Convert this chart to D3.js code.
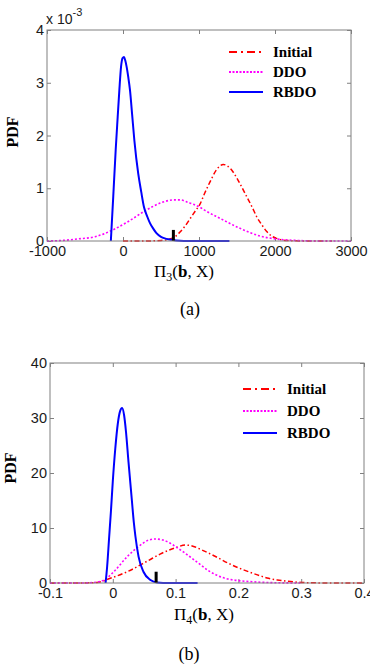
<!DOCTYPE html>
<html><head><meta charset="utf-8">
<script src="https://cdn.jsdelivr.net/npm/d3@7"></script>
<style>
body{margin:0;background:#fff;}
svg{display:block;}
</style></head>
<body>
<svg id="chart" width="370" height="665"></svg>
<script>
// ---------- Panel (a) data (PDF in units of 1e-3) ----------
const aXTicks = [-1000, 0, 1000, 2000, 3000];
const aYTicks = [0, 1, 2, 3, 4];
const aInitialX = [0, 300, 500, 600, 684, 750, 816, 882, 947, 1013, 1079, 1145, 1230, 1320, 1410, 1496, 1560, 1628, 1700, 1759, 1830, 1891, 1960, 2022, 2154, 2400, 2750];
const aInitialY = [0, 0, 0.01, 0.03, 0.08, 0.17, 0.28, 0.42, 0.56, 0.70, 0.92, 1.12, 1.35, 1.45, 1.38, 1.20, 1.03, 0.84, 0.64, 0.46, 0.30, 0.18, 0.09, 0.05, 0.01, 0, 0];
const aDdoX = [-1000, -800, -588, -368, -149, 70, 289, 509, 671, 750, 860, 1013, 1079, 1276, 1539, 1803, 2066, 2285, 2600, 3000];
const aDdoY = [0, 0.01, 0.04, 0.08, 0.20, 0.37, 0.57, 0.73, 0.78, 0.78, 0.73, 0.64, 0.58, 0.43, 0.24, 0.095, 0.03, 0.01, 0, 0];
const aRbdoX = [-160, -128, -96, -70, -48, -26, -5, 13, 30, 48, 70, 92, 120, 150, 200, 240, 275, 320, 355, 400, 440, 500, 550, 620, 700, 900, 1400];
const aRbdoY = [0, 0.85, 1.73, 2.35, 2.86, 3.30, 3.47, 3.49, 3.42, 3.30, 3.10, 2.86, 2.40, 1.90, 1.28, 0.93, 0.65, 0.46, 0.34, 0.23, 0.15, 0.08, 0.05, 0.03, 0.01, 0, 0];
const aMarker = [663, 0.21];

// ---------- Panel (b) data ----------
const bXTicks = [-0.1, 0, 0.1, 0.2, 0.3, 0.4];
const bYTicks = [0, 10, 20, 30, 40];
const bInitialX = [-0.1, -0.05, -0.025, -0.004, 0.023, 0.049, 0.063, 0.076, 0.09, 0.102, 0.116, 0.13, 0.142, 0.155, 0.169, 0.182, 0.195, 0.208, 0.222, 0.235, 0.248, 0.262, 0.275, 0.29, 0.30, 0.33, 0.4];
const bInitialY = [0, 0, 0.1, 0.85, 2.05, 3.6, 4.5, 5.3, 6.0, 6.5, 6.9, 6.6, 6.0, 5.3, 4.5, 3.7, 3.0, 2.4, 1.8, 1.3, 0.85, 0.55, 0.36, 0.18, 0.1, 0.02, 0];
const bDdoX = [-0.1, -0.05, -0.03, -0.014, 0.0016, 0.023, 0.044, 0.057, 0.068, 0.08, 0.092, 0.1, 0.113, 0.126, 0.14, 0.153, 0.166, 0.179, 0.192, 0.206, 0.225, 0.243, 0.27, 0.3];
const bDdoY = [0, 0, 0.1, 0.55, 2.05, 4.8, 6.9, 7.8, 8.0, 7.8, 7.2, 6.6, 5.6, 4.5, 3.3, 2.2, 1.4, 0.85, 0.55, 0.36, 0.2, 0.1, 0.03, 0];
const bRbdoX = [-0.0115, -0.009, -0.006, -0.003, 0.0, 0.004, 0.008, 0.0115, 0.0148, 0.018, 0.021, 0.025, 0.03, 0.0335, 0.036, 0.041, 0.049, 0.06, 0.07, 0.09, 0.135];
const bRbdoY = [0, 3, 8, 13, 18.5, 24.5, 29, 31.2, 31.8, 30.5, 27.5, 22, 15.5, 11, 8.5, 4.8, 2.0, 0.55, 0.1, 0, 0];
const bMarker = [0.069, 2.05];

const seriesNames = ["Initial", "DDO", "RBDO"];
const seriesColors = ["#ff0000", "#ff00ff", "#0000ff"];
const seriesDash = ["5,2.5,1.5,2.5", "2,2", null];
const seriesWidth = [1.5, 1.6, 2];

const svg = d3.select("#chart");
const frameColor = "#808080";
const tickFont = "Liberation Sans, Arial, sans-serif";
const serif = "Liberation Serif, Times New Roman, serif";

function zip(xs, ys){ return xs.map((x,i)=>[x, ys[i]]); }
const hy = s => String(s).replace("\u2212", "-");

function panel(cfg){
  const x = d3.scaleLinear().domain(cfg.xDomain).range([cfg.left, cfg.right]);
  const y = d3.scaleLinear().domain(cfg.yDomain).range([cfg.bottom, cfg.top]);
  const g = svg.append("g");

  const ax = g.append("g").attr("transform", `translate(0,${cfg.bottom})`)
    .call(d3.axisBottom(x).tickValues(cfg.xTicks).tickSize(-4).tickPadding(5).tickFormat(cfg.xFmt));
  const axT = g.append("g").attr("transform", `translate(0,${cfg.top})`)
    .call(d3.axisTop(x).tickValues(cfg.xTicks).tickSize(-4).tickFormat(""));
  const ay = g.append("g").attr("transform", `translate(${cfg.left},0)`)
    .call(d3.axisLeft(y).tickValues(cfg.yTicks).tickSize(-4).tickPadding(3).tickFormat(d3.format("d")));
  const ayR = g.append("g").attr("transform", `translate(${cfg.right},0)`)
    .call(d3.axisRight(y).tickValues(cfg.yTicks).tickSize(-4).tickFormat(""));
  [ax, axT, ay, ayR].forEach(a=>{
    a.select(".domain").remove();
    a.selectAll("line").attr("stroke", frameColor);
    a.selectAll("text").attr("fill", "#1a1a1a").style("font-family", tickFont).style("font-size", "14.5px");
  });

  const line = d3.line().x(d=>x(d[0])).y(d=>y(d[1])).curve(d3.curveMonotoneX);
  const data = [zip(cfg.initX, cfg.initY), zip(cfg.ddoX, cfg.ddoY), zip(cfg.rbdoX, cfg.rbdoY)];
  data.forEach((d,i)=>{
    g.append("path").datum(d).attr("d", line).attr("fill","none")
      .attr("stroke", seriesColors[i]).attr("stroke-width", seriesWidth[i])
      .attr("stroke-dasharray", seriesDash[i]);
  });
  g.append("line").attr("x1", x(cfg.marker[0])).attr("x2", x(cfg.marker[0]))
    .attr("y1", y(0)).attr("y2", y(cfg.marker[1])).attr("stroke", "#000").attr("stroke-width", 3);

  g.append("rect").attr("x", cfg.left).attr("y", cfg.top)
    .attr("width", cfg.right - cfg.left).attr("height", cfg.bottom - cfg.top)
    .attr("fill","none").attr("stroke", frameColor).attr("stroke-width", 1);

  cfg.legendRows.forEach((ry,i)=>{
    g.append("line").attr("x1", cfg.legendX).attr("x2", cfg.legendX + 34)
      .attr("y1", ry).attr("y2", ry).attr("stroke", seriesColors[i])
      .attr("stroke-width", 2).attr("stroke-dasharray", i===0 ? "8,4,2,4" : (i===1 ? "2,1.5" : null));
    g.append("text").attr("x", cfg.legendX + 44).attr("y", ry + 5)
      .style("font-family", serif).style("font-weight", "bold").style("font-size", "15px")
      .text(seriesNames[i]);
  });

  g.append("text").attr("transform", `translate(${cfg.yLabelX},${cfg.yLabelY}) rotate(-90)`)
    .attr("text-anchor","middle").style("font-family", serif).style("font-weight","bold")
    .style("font-size","16px").text("PDF");

  const xl = g.append("text").attr("x", cfg.xLabelX).attr("y", cfg.xLabelY).attr("text-anchor","middle")
    .style("font-family", serif).style("font-size","17px");
  xl.append("tspan").text("Π");
  xl.append("tspan").attr("dy", 4).style("font-size","12px").text(cfg.sub);
  xl.append("tspan").attr("dy", -4).text("(");
  xl.append("tspan").style("font-weight","bold").text("b");
  xl.append("tspan").text(", X)");

  g.append("text").attr("x", cfg.capX).attr("y", cfg.capY).attr("text-anchor","middle")
    .style("font-family", serif).style("font-size","18px").text(cfg.caption);
  return {x, y, g};
}

panel({
  xDomain:[-1000,3000], yDomain:[0,4], left:47, right:351, top:30, bottom:241,
  xTicks:aXTicks, yTicks:aYTicks, xFmt:d=>hy(d3.format("d")(d)),
  initX:aInitialX, initY:aInitialY, ddoX:aDdoX, ddoY:aDdoY, rbdoX:aRbdoX, rbdoY:aRbdoY,
  marker:aMarker, legendX:229, legendRows:[52,72,92],
  yLabelX:18, yLabelY:132, xLabelX:184, xLabelY:277, sub:"3",
  capX:190, capY:315, caption:"(a)"
});
const ex = svg.append("text").attr("x", 46).attr("y", 24)
  .style("font-family", tickFont).style("font-size","14px").attr("fill","#1a1a1a");
ex.append("tspan").text("x 10");
ex.append("tspan").attr("dy", -8).style("font-size","11px").text("-3");

panel({
  xDomain:[-0.1,0.4], yDomain:[0,40], left:50, right:364, top:363, bottom:583,
  xTicks:bXTicks, yTicks:bYTicks, xFmt:d=> d===0 ? "0" : hy(d3.format(".1f")(d)),
  initX:bInitialX, initY:bInitialY, ddoX:bDdoX, ddoY:bDdoY, rbdoX:bRbdoX, rbdoY:bRbdoY,
  marker:bMarker, legendX:243, legendRows:[389,411,433],
  yLabelX:16, yLabelY:468, xLabelX:204, xLabelY:620, sub:"4",
  capX:189, capY:660, caption:"(b)"
});
</script>
</body></html>
